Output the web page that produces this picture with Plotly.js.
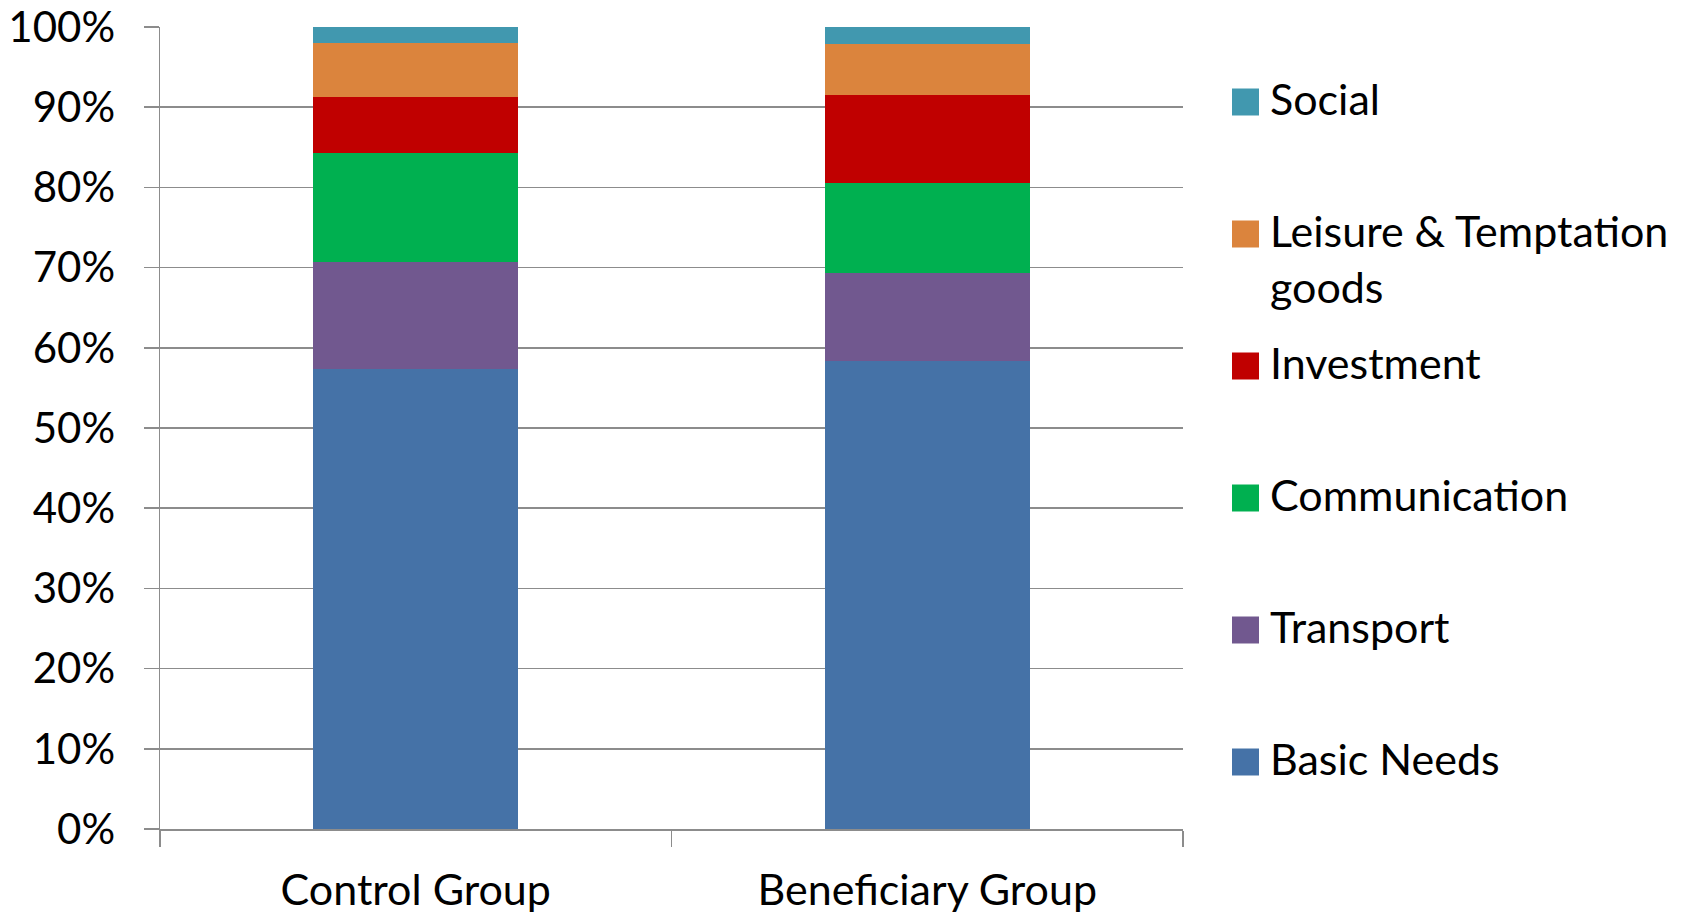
<!DOCTYPE html>
<html>
<head>
<meta charset="utf-8">
<script src="https://cdn.plot.ly/plotly-3.0.1.min.js"></script>
<style>
  html, body { margin: 0; padding: 0; background: #ffffff; }
  #chart { width: 1700px; height: 916px; }
</style>
</head>
<body>
<div id="chart"></div>
<script>
// Spending shares by group (percent of total), stacked bottom to top
const groups = ['Control Group', 'Beneficiary Group'];

const basicNeeds    = [57.3, 58.4];
const transport     = [13.4, 10.9];
const communication = [13.55, 11.3];
const investment    = [7.0, 10.9];
const leisure       = [6.75, 6.35];
const social        = [2.0, 2.15];

const seriesNames = ['Basic Needs', 'Transport', 'Communication', 'Investment',
                     'Leisure & Temptation<br>goods', 'Social'];
const seriesValues = [basicNeeds, transport, communication, investment, leisure, social];
const seriesColors = ['#4572A7', '#71588F', '#00B050', '#C00000', '#DB843D', '#4198AF'];

const FONT = 'Lato, "Open Sans", sans-serif';
const FS = 43;
const GRID = '#8c8c8c';

const traces = seriesNames.map((name, i) => ({
  type: 'bar',
  name: name,
  x: groups,
  y: seriesValues[i],
  marker: { color: seriesColors[i], line: { width: 0 } },
  showlegend: false,
  hoverinfo: 'x+y+name'
}));

// Legend: swatch + label per series, listed top (Social) to bottom (Basic Needs)
const shapes = [];
const annotations = [];
const legendTop = 102, legendStep = 132;
const swX0 = 1232, swSize = 27, textX = 1268;
for (let k = 0; k < seriesNames.length; k++) {
  const i = seriesNames.length - 1 - k;
  const cy = legendTop + k * legendStep;
  shapes.push({
    type: 'rect', xref: 'paper', yref: 'paper',
    x0: (swX0 - 160) / 1023, x1: (swX0 + swSize - 160) / 1023,
    y0: (829 - (cy + swSize / 2)) / 802, y1: (829 - (cy - swSize / 2)) / 802,
    fillcolor: seriesColors[i], line: { width: 0 }
  });
  annotations.push({
    xref: 'paper', yref: 'paper',
    x: (textX - 160) / 1023, y: (829 - cy) / 802,
    xanchor: 'left', yanchor: 'top', yshift: 31,
    align: 'left', showarrow: false,
    text: seriesNames[i],
    font: { family: FONT, size: FS, color: '#000000' }
  });
}

const layout = {
  width: 1700,
  height: 916,
  margin: { l: 160, r: 517, t: 27, b: 87 },
  paper_bgcolor: '#ffffff',
  plot_bgcolor: '#ffffff',
  barmode: 'stack',
  bargap: 0.6,
  showlegend: false,
  font: { family: FONT, size: FS, color: '#000000' },
  xaxis: {
    type: 'category',
    showline: true, linecolor: GRID, linewidth: 1.5,
    ticks: 'outside', tickson: 'boundaries', ticklen: 16, tickcolor: GRID, tickwidth: 1.5,
    showgrid: false, zeroline: false,
    ticklabelstandoff: 23,
    tickfont: { family: FONT, size: FS, color: '#000000' }
  },
  yaxis: {
    range: [0, 100],
    dtick: 10,
    ticksuffix: '%',
    showline: true, linecolor: GRID, linewidth: 1.5,
    ticks: 'outside', ticklen: 15, tickcolor: GRID, tickwidth: 1.5,
    showgrid: true, gridcolor: GRID, gridwidth: 1.5,
    zeroline: false,
    ticklabelstandoff: 20,
    tickfont: { family: FONT, size: 42, color: '#000000' }
  },
  shapes: shapes,
  annotations: annotations
};

Plotly.newPlot('chart', traces, layout, { displayModeBar: false, staticPlot: true });
</script>
</body>
</html>
